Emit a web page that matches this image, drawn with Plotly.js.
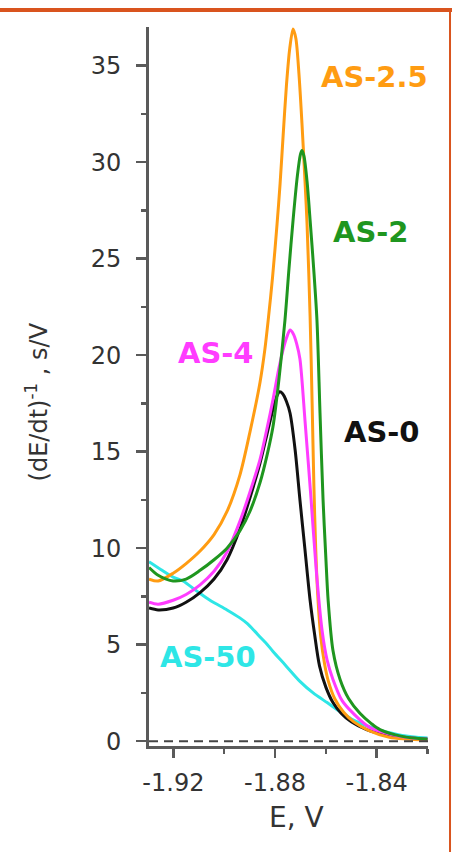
<!DOCTYPE html>
<html>
<head>
<meta charset="utf-8">
<script src="https://cdn.plot.ly/plotly-3.0.1.min.js"></script>
<style>
html,body{margin:0;padding:0;background:#fff;}
#chart{width:452px;height:852px;}
</style>
</head>
<body>
<div id="chart"></div>
<script>
// ---- data ----
const seriesNames = ["AS-0", "AS-4", "AS-2.5", "AS-2", "AS-50"];

const eAS0 = [-1.9296, -1.9260, -1.9201, -1.9150, -1.9095, -1.9040, -1.8989, -1.8938, -1.8899, -1.8859, -1.8830, -1.8808, -1.8792, -1.8782, -1.8770, -1.8755, -1.8741, -1.8721, -1.8702, -1.8682, -1.8662, -1.8645, -1.8625, -1.8600, -1.8572, -1.8540, -1.8500, -1.8440, -1.8350, -1.8200];
const yAS0 = [6.9, 6.8, 6.9, 7.2, 7.7, 8.4, 9.4, 11.0, 12.6, 14.4, 16.0, 17.2, 17.9, 18.1, 18.0, 17.6, 17.0, 15.1, 12.5, 9.9, 7.3, 5.6, 3.9, 2.8, 2.0, 1.45, 1.0, 0.6, 0.3, 0.1];

const eAS4 = [-1.9296, -1.9260, -1.9201, -1.9150, -1.9095, -1.9040, -1.8989, -1.8938, -1.8899, -1.8859, -1.8830, -1.8808, -1.8785, -1.8768, -1.8752, -1.8741, -1.8728, -1.8715, -1.8702, -1.8682, -1.8658, -1.8638, -1.8615, -1.8595, -1.8572, -1.8536, -1.8493, -1.8426, -1.8308, -1.8200];
const yAS4 = [7.2, 7.1, 7.3, 7.6, 8.1, 8.8, 9.8, 11.4, 12.9, 14.6, 16.3, 17.7, 19.3, 20.3, 21.0, 21.3, 21.1, 20.6, 19.8, 16.6, 12.5, 8.9, 5.75, 4.2, 3.2, 2.1, 1.45, 0.7, 0.25, 0.1];

const eAS25 = [-1.9296, -1.9260, -1.9201, -1.9150, -1.9095, -1.9040, -1.8989, -1.8938, -1.8899, -1.8859, -1.8840, -1.8827, -1.8810, -1.8792, -1.8780, -1.8768, -1.8755, -1.8742, -1.8729, -1.8718, -1.8706, -1.8694, -1.8682, -1.8674, -1.8662, -1.8654, -1.8647, -1.8640, -1.8632, -1.8620, -1.8605, -1.8590, -1.8565, -1.8530, -1.8490, -1.8430, -1.8350, -1.8200];
const yAS25 = [8.4, 8.3, 8.7, 9.2, 9.85, 10.7, 11.9, 13.8, 16.0, 18.6, 20.3, 21.8, 24.0, 26.8, 28.9, 31.4, 34.0, 35.9, 36.9, 36.4, 34.6, 32.0, 29.0, 26.8, 22.0, 17.5, 13.2, 10.0, 7.6, 5.4, 4.0, 3.1, 2.2, 1.5, 1.0, 0.55, 0.2, 0.05];

const eAS2 = [-1.9296, -1.9260, -1.9201, -1.9150, -1.9095, -1.9040, -1.8989, -1.8938, -1.8899, -1.8859, -1.8830, -1.8808, -1.8785, -1.8761, -1.8745, -1.8729, -1.8712, -1.8700, -1.8694, -1.8686, -1.8674, -1.8662, -1.8648, -1.8635, -1.8623, -1.8611, -1.8600, -1.8591, -1.8572, -1.8544, -1.8510, -1.8466, -1.8420, -1.8387, -1.8300, -1.8200];
const yAS2 = [9.0, 8.6, 8.3, 8.4, 8.85, 9.4, 10.0, 10.9, 11.9, 13.4, 14.9, 16.3, 18.7, 21.8, 24.5, 27.0, 29.3, 30.4, 30.6, 30.3, 29.0, 27.0, 24.5, 21.8, 17.0, 12.5, 9.5, 7.3, 4.7, 3.2, 2.2, 1.45, 0.9, 0.6, 0.25, 0.1];

const eAS50 = [-1.9296, -1.9250, -1.9201, -1.9162, -1.9110, -1.9056, -1.8989, -1.8940, -1.8910, -1.8880, -1.8859, -1.8830, -1.8808, -1.8760, -1.8702, -1.8650, -1.8595, -1.8540, -1.8493, -1.8440, -1.8387, -1.8300, -1.8200];
const yAS50 = [9.3, 8.9, 8.5, 8.3, 7.8, 7.3, 6.8, 6.4, 6.1, 5.7, 5.4, 5.0, 4.65, 3.95, 3.1, 2.5, 2.0, 1.5, 1.1, 0.8, 0.57, 0.3, 0.16];

const xTickVals = [-1.92, -1.88, -1.84];
const xTickText = ["-1.92", "-1.88", "-1.84"];
const yTickVals = [0, 5, 10, 15, 20, 25, 30, 35];
const yTickText = ["0", "5", "10", "15", "20", "25", "30", "35"];

// ---- styling ----
const colors = {"AS-0": "#111111", "AS-4": "#FF3CFF", "AS-2.5": "#FF9C12", "AS-2": "#1F961F", "AS-50": "#2EE6E6"};
const lineW = 3;

function tr(x, y, name) {
  return {x: x, y: y, name: name, type: "scatter", mode: "lines",
          line: {color: colors[name], width: lineW, shape: "spline", smoothing: 0.8},
          hoverinfo: "skip", showlegend: false};
}

const data = [
  tr(eAS50, yAS50, "AS-50"),
  tr(eAS0, yAS0, "AS-0"),
  tr(eAS25, yAS25, "AS-2.5"),
  tr(eAS4, yAS4, "AS-4"),
  tr(eAS2, yAS2, "AS-2")
];

const axisCol = "#5a5a5a";
const tickFont = {family: "DejaVu Sans", size: 24, color: "#333"};
const lblFont = (c) => ({family: "DejaVu Sans", size: 29, color: c, weight: "bold"});

const layout = {
  width: 452, height: 852,
  margin: {l: 149, r: 24, t: 27, b: 106},
  paper_bgcolor: "#fff", plot_bgcolor: "#fff",
  showlegend: false,
  xaxis: {
    range: [-1.9296, -1.8198], showgrid: false, zeroline: false,
    showline: true, linecolor: axisCol, linewidth: 3,
    ticks: "outside", ticklen: 9, tickwidth: 2.5, tickcolor: axisCol,
    tickmode: "array", tickvals: xTickVals, ticktext: xTickText,
    tickfont: tickFont, ticklabelstandoff: 4,
    automargin: false,
    minor: {tick0: -1.92, dtick: 0.02, ticks: "outside", ticklen: 5, tickwidth: 2.5, tickcolor: axisCol, showgrid: false}
  },
  yaxis: {
    range: [-0.25, 37], showgrid: false, zeroline: false,
    showline: true, linecolor: axisCol, linewidth: 3,
    ticks: "outside", ticklen: 10, tickwidth: 2.5, tickcolor: axisCol,
    tickmode: "array", tickvals: yTickVals, ticktext: yTickText,
    tickfont: tickFont, ticklabelstandoff: 10,
    automargin: false,
    minor: {tick0: 0, dtick: 2.5, ticks: "outside", ticklen: 5, tickwidth: 2.5, tickcolor: axisCol, showgrid: false}
  },
  shapes: [
    {type: "line", xref: "paper", yref: "y", x0: 0, x1: 1, y0: 0, y1: 0,
     line: {color: "#444", width: 2, dash: "9px,6px"}},
    {type: "line", xref: "paper", yref: "paper", x0: -0.54, x1: 1.09, y0: 1.0236, y1: 1.0236,
     line: {color: "#D9541E", width: 4}},
    {type: "line", xref: "paper", yref: "paper", x0: 1.0789, x1: 1.0789, y0: 1.0236, y1: -0.16,
     line: {color: "#D9541E", width: 2}}
  ],
  annotations: [
    {text: "AS-2.5", x: -1.8410, y: 34.4, xref: "x", yref: "y", showarrow: false, xanchor: "center", yanchor: "middle", font: lblFont(colors["AS-2.5"])},
    {text: "AS-2", x: -1.8421, y: 26.4, xref: "x", yref: "y", showarrow: false, xanchor: "center", yanchor: "middle", font: lblFont(colors["AS-2"])},
    {text: "AS-4", x: -1.9034, y: 20.1, xref: "x", yref: "y", showarrow: false, xanchor: "center", yanchor: "middle", font: lblFont(colors["AS-4"])},
    {text: "AS-0", x: -1.8378, y: 16.0, xref: "x", yref: "y", showarrow: false, xanchor: "center", yanchor: "middle", font: lblFont(colors["AS-0"])},
    {text: "AS-50", x: -1.9062, y: 4.35, xref: "x", yref: "y", showarrow: false, xanchor: "center", yanchor: "middle", font: lblFont(colors["AS-50"])},
    {text: "E, V", xref: "paper", yref: "paper", x: 0.527, y: -0.100, showarrow: false, xanchor: "center", yanchor: "middle",
     font: {family: "DejaVu Sans", size: 28, color: "#333"}},
    {text: "(dE/dt)<sup>-1</sup> , s/V", xref: "paper", yref: "paper", x: -0.401, y: 0.478, textangle: -90,
     showarrow: false, xanchor: "center", yanchor: "middle",
     font: {family: "DejaVu Sans", size: 24, color: "#333"}}
  ]
};

Plotly.newPlot("chart", data, layout, {displayModeBar: false, staticPlot: true});
</script>
</body>
</html>
